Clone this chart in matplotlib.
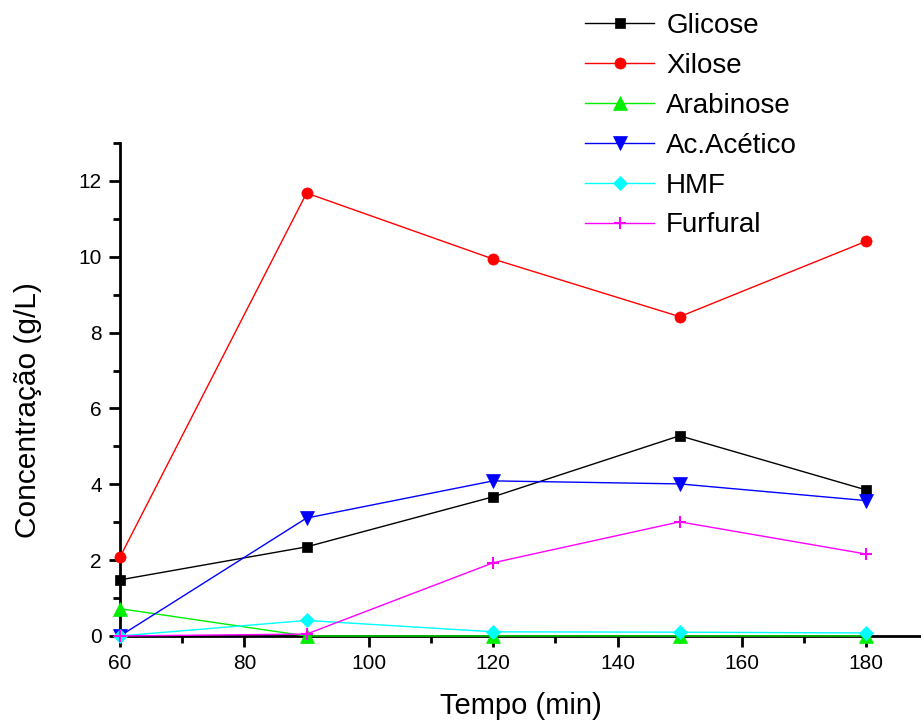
import matplotlib
matplotlib.use("Agg")
import matplotlib.pyplot as plt
from matplotlib.ticker import MultipleLocator

plt.rcParams['font.family'] = ['Liberation Sans', 'DejaVu Sans']

tempo = [60, 90, 120, 150, 180]
glicose = [1.48, 2.35, 3.67, 5.28, 3.85]
xilose = [2.08, 11.68, 9.94, 8.42, 10.41]
arabinose = [0.72, 0.0, 0.0, 0.0, 0.0]
acetico = [0.0, 3.11, 4.09, 4.01, 3.57]
hmf = [0.0, 0.41, 0.11, 0.10, 0.08]
furfural = [0.0, 0.05, 1.93, 3.01, 2.16]

series = [
    ("Glicose", glicose, "black", "s", 7.5),
    ("Xilose", xilose, "red", "o", 8),
    ("Arabinose", arabinose, "#00ee00", "^", 9.5),
    ("Ac.Acético", acetico, "blue", "v", 9.5),
    ("HMF", hmf, "cyan", "D", 7),
    ("Furfural", furfural, "magenta", "+", 9),
]

fig = plt.figure(figsize=(9.21, 7.2), dpi=100)
ax = fig.add_axes([0.1303, 0.1167, 0.8697, 0.6847])

for name, vals, col, mk, ms in series:
    ax.plot(tempo, vals, color=col, lw=1.0, marker=mk, markersize=ms,
            markerfacecolor=col, markeredgecolor=col,
            markeredgewidth=1.5 if mk == "+" else 0.5,
            label=name, clip_on=False, zorder=3)

ax.set_xlim(60, 188.8)
ax.set_ylim(0, 13)
ax.xaxis.set_major_locator(MultipleLocator(20))
ax.xaxis.set_minor_locator(MultipleLocator(10))
ax.yaxis.set_major_locator(MultipleLocator(2))
ax.yaxis.set_minor_locator(MultipleLocator(1))
ax.set_xticks([60, 80, 100, 120, 140, 160, 180])

for s in ["top", "right"]:
    ax.spines[s].set_visible(False)
for s in ["left", "bottom"]:
    ax.spines[s].set_linewidth(2)

ax.tick_params(axis="both", which="major", direction="out", length=8, width=2,
               labelsize=15, pad=5)
ax.tick_params(axis="both", which="minor", direction="out", length=5, width=2)

ax.set_xlabel("Tempo (min)", fontsize=21, labelpad=14)
ax.set_ylabel("Concentração (g/L)", fontsize=21.5)
ax.yaxis.set_label_coords(-0.097, 0.458)

leg = fig.legend(loc="upper left", bbox_to_anchor=(0.635, 0.982),
                 frameon=False, fontsize=20, handlelength=2.5,
                 handletextpad=0.43, labelspacing=0.5, borderpad=0.0,
                 borderaxespad=0.0)

fig.savefig("out.png", dpi=100)
